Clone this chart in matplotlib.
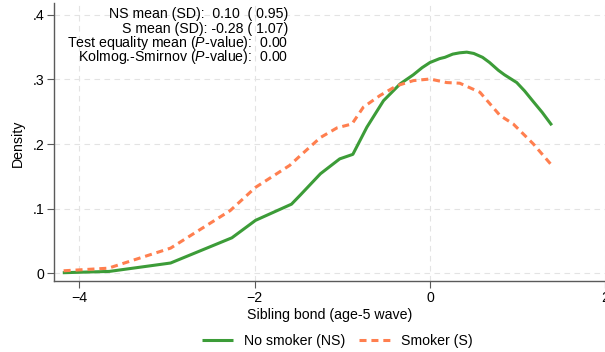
import matplotlib
matplotlib.use("Agg")
from matplotlib import pyplot as plt

plt.rcParams['font.family'] = ['Liberation Sans', 'DejaVu Sans']
plt.rcParams['mathtext.fontset'] = 'custom'
plt.rcParams['mathtext.it'] = 'Liberation Sans:italic'
plt.rcParams['mathtext.rm'] = 'Liberation Sans'

# kernel density, no smokers (NS)
ns_x = [-4.19, -3.66, -2.96, -2.26, -1.99, -1.58, -1.48, -1.25, -1.03, -0.88,
        -0.72, -0.53, -0.34, -0.19, -0.09, 0.0, 0.11, 0.17, 0.26, 0.34,
        0.42, 0.50, 0.60, 0.68, 0.78, 0.85, 0.99, 1.08, 1.17, 1.28, 1.39]
ns_y = [0.001, 0.003, 0.016, 0.055, 0.082, 0.107, 0.121, 0.154, 0.177, 0.184,
        0.226, 0.267, 0.293, 0.307, 0.318, 0.326, 0.332, 0.334, 0.339, 0.341,
        0.342, 0.340, 0.334, 0.326, 0.314, 0.307, 0.295, 0.282, 0.267, 0.249, 0.229]

# kernel density, smokers (S)
s_x = [-4.18, -3.67, -2.96, -2.28, -1.99, -1.60, -1.48, -1.25, -1.06, -0.89,
       -0.76, -0.57, -0.38, -0.19, 0.0, 0.19, 0.34, 0.57, 0.80, 0.95,
       1.18, 1.39]
s_y = [0.004, 0.008, 0.039, 0.097, 0.133, 0.167, 0.182, 0.210, 0.225, 0.231,
       0.257, 0.275, 0.290, 0.298, 0.3005, 0.295, 0.294, 0.280, 0.244, 0.231,
       0.200, 0.167]

stats_lines = ["NS mean (SD):  0.10  ( 0.95)",
               "S mean (SD): -0.28 ( 1.07)",
               "Test equality mean ($P$-value):  0.00",
               "Kolmog.-Smirnov ($P$-value):  0.00"]

x_ticks = [-4, -2, 0, 2]
y_ticks = [0, 0.1, 0.2, 0.3, 0.4]
y_labels = ["0", ".1", ".2", ".3", ".4"]

green = "#3c9c38"
orange = "#ff7f4f"

W, H = 605, 352
fig = plt.figure(figsize=(W / 100, H / 100), dpi=100)
ax = fig.add_axes([54 / W, 1 - 281 / H, (607 - 54) / W, (281 - 3) / H])

ax.plot(ns_x, ns_y, color=green, lw=2.2, label="No smoker (NS)", solid_capstyle="butt")
ax.plot(s_x, s_y, color=orange, lw=2.2, ls=(0, (2.3, 1.6)), label="Smoker (S)")

ax.set_xlim(-4.29, 2.02)
ax.set_ylim(-0.0118, 0.418)
ax.set_xticks(x_ticks)
ax.set_yticks(y_ticks)
ax.set_yticklabels(y_labels)
ax.grid(True, color="#e3e3e3", ls=(0, (5, 4)), lw=0.8)
ax.set_axisbelow(True)
for side in ["top", "right"]:
    ax.spines[side].set_visible(False)
for side in ["left", "bottom"]:
    ax.spines[side].set_color("#5a5a5a")
    ax.spines[side].set_linewidth(1.0)
ax.tick_params(direction="out", length=5, width=0.8, color="#5a5a5a",
               labelsize=10.2, labelcolor="black", pad=2)

fig.text(18 / W, 1 - 143 / H, "Density", rotation=90, ha="center", va="center", fontsize=10.2)
fig.text(330 / W, 1 - 315 / H, "Sibling bond (age-5 wave)", ha="center", va="center", fontsize=10.2)

for i, line in enumerate(stats_lines):
    fig.text(288 / W, 1 - (14 + i * 14.5) / H, line, ha="right", va="center", fontsize=10.2)

fig.legend(loc="center left", bbox_to_anchor=(202 / W, 1 - 341 / H), ncol=2, frameon=False,
           fontsize=10.2, handlelength=2.16, columnspacing=1.0, handletextpad=0.8,
           borderaxespad=0, borderpad=0)

fig.savefig("out.png", dpi=100)
